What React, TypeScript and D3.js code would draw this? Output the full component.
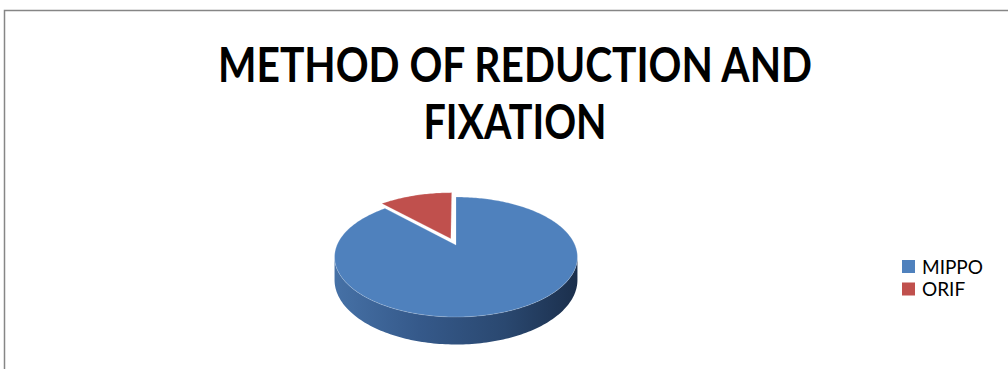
import React from "react";
import * as d3 from "d3";

const categories = ["MIPPO", "ORIF"];
const values = [88, 12];
const colors = ["#4F81BD", "#C0504D"];
const titleLines = ["METHOD OF REDUCTION AND", "FIXATION"];

const W = 1008;
const H = 369;

export default function App() {
  const cx = 456;
  const cy0 = 245;
  const Rx = 119;
  const Ry = 57.6;
  const persp = 0.2;
  const depth = 22;
  const explode = [0, 0.12];

  const pie = d3.pie<number>().sort(null).startAngle(0).endAngle(2 * Math.PI);
  const arcs = pie(values);

  const th = (a: number) => Math.PI / 2 - a;
  const proj = (theta: number, r: number, off: [number, number], h: number): [number, number] => {
    const u = r * Math.cos(theta) + off[0];
    const v = r * Math.sin(theta) + off[1];
    const s = 1 / (1 + persp * v);
    return [cx + u * Rx * s, cy0 - v * Ry * s + h * depth * s];
  };

  const line = d3.line<[number, number]>();

  const slices = arcs.map((a, i) => {
    const mid = th((a.startAngle + a.endAngle) / 2);
    const off: [number, number] = [explode[i] * Math.cos(mid), explode[i] * Math.sin(mid)];
    const t0 = th(a.startAngle);
    const t1 = th(a.endAngle);
    const n = Math.max(8, Math.ceil(Math.abs(t1 - t0) / 0.02));
    const rim: [number, number][] = d3.range(n + 1).map((k) => proj(t0 + ((t1 - t0) * k) / n, 1, off, 0));
    const top = line([proj(0, 0, off, 0), ...rim]) + "Z";

    const walls: string[] = [];
    let seg: number[] = [];
    const flush = () => {
      if (seg.length > 1) {
        const upper = seg.map((t) => proj(t, 1, off, 0));
        const lower = seg.map((t) => proj(t, 1, off, 1)).reverse();
        walls.push(line([...upper, ...lower]) + "Z");
      }
      seg = [];
    };
    for (let k = 0; k <= n; k++) {
      const t = t0 + ((t1 - t0) * k) / n;
      if (Math.sin(t) < -persp + 0.001) seg.push(t);
      else flush();
    }
    flush();

    const faces: string[] = [];
    const faceAt = (t: number, sign: number) => {
      const nv = -sign * Math.cos(t);
      if (nv < 0 && explode[i] > 0) {
        const pts = [proj(0, 0, off, 0), proj(t, 1, off, 0), proj(t, 1, off, 1), proj(0, 0, off, 1)];
        faces.push(line(pts) + "Z");
      }
    };
    faceAt(t1, -1);
    faceAt(t0, 1);
    return { top, walls, faces, i };
  });

  const order = [1, 0];

  return (
    <svg width={W} height={H} style={{ position: "absolute", left: 0, top: 0 }} fontFamily="Lato, 'Open Sans', sans-serif">
      <defs>
        <linearGradient id="blueSide" x1="0" x2="1" y1="0" y2="0">
          <stop offset="0" stopColor="#4671A6" />
          <stop offset="0.35" stopColor="#35598A" />
          <stop offset="0.7" stopColor="#2A4870" />
          <stop offset="1" stopColor="#1B2F4C" />
        </linearGradient>
        <linearGradient id="redSide" x1="0" x2="1" y1="0" y2="0">
          <stop offset="0" stopColor="#8C2F2C" />
          <stop offset="1" stopColor="#5A1C1A" />
        </linearGradient>
      </defs>
      <rect x={0} y={0} width={W} height={H} fill="#ffffff" />
      <rect x={4.5} y={10.5} width={1200} height={600} fill="none" stroke="#868686" strokeWidth={1.5} />
      <g fontWeight={700} fill="#000" textAnchor="middle" fontSize={48}>
        <text x={515} y={82} textLength={594} lengthAdjust="spacingAndGlyphs">{titleLines[0]}</text>
        <text x={515} y={139} textLength={183} lengthAdjust="spacingAndGlyphs">{titleLines[1]}</text>
      </g>
      {order.map((idx) => {
        const s = slices[idx];
        return (
          <g key={idx}>
            {s.walls.map((d, k) => (
              <path key={"w" + k} d={d} fill={idx === 0 ? "url(#blueSide)" : "url(#redSide)"} />
            ))}
            {s.faces.map((d, k) => (
              <path key={"f" + k} d={d} fill={idx === 0 ? "#2A4870" : "#6A2220"} />
            ))}
            <path d={s.top} fill={colors[idx]} stroke="#ffffff" strokeOpacity={0.35} strokeWidth={0.6} />
          </g>
        );
      })}
      <g fontSize={19} fill="#000">
        {categories.map((c, i) => (
          <g key={c} transform={`translate(902, ${260 + i * 22.5})`}>
            <rect x={0} y={0} width={13} height={13} fill={colors[i]} />
            <text x={20} y={13.5}>{c}</text>
          </g>
        ))}
      </g>
    </svg>
  );
}
